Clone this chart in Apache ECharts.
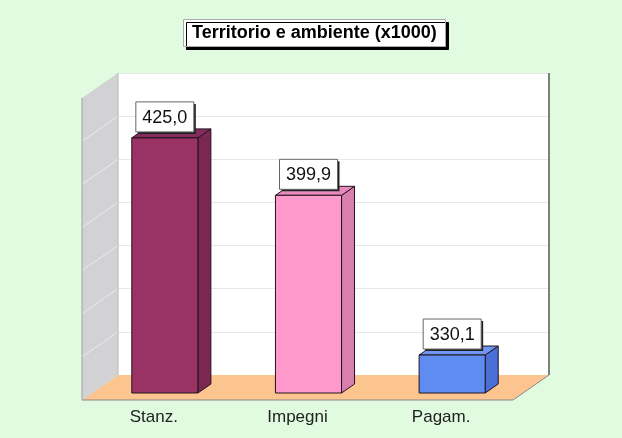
<!DOCTYPE html>
<html>
<head>
<meta charset="utf-8">
<script src="https://cdn.jsdelivr.net/npm/echarts@6/dist/echarts.min.js"></script>
<style>
  html, body { margin: 0; padding: 0; background: #e1fbe1; }
  #chart { width: 622px; height: 438px; }
</style>
</head>
<body>
<div id="chart"></div>
<script>
// dati
const categories = ['Stanz.', 'Impegni', 'Pagam.']
const values = [425.0, 399.9, 330.1]
const frontColors = ['#993366', '#ff99cc', '#5f8cf0']
const sideColors = ['#7a2752', '#d97fb0', '#4a6fd8']
const topColors = ['#842c5c', '#e98abd', '#6f96f2']
const yMin = 313.5
const yMax = 445.5
const wallLines = [0, 1, 2, 3, 4, 5, 6, 7]

const font = "'Liberation Sans', Arial, sans-serif"

// pareti e pavimento (prospettiva)
const back = { x: 118, y: 73, w: 431, h: 302 }
const dep = { x: -36, y: 25 }

function fmt(v) {
  return v.toFixed(1).replace('.', ',')
}

function renderBar(params, api) {
  const i = api.value(0)
  const v = api.value(1)
  const top = api.coord([i, v])
  const base = api.coord([i, yMin])
  const w = api.size([1, 0])[0] * 0.46
  const x0 = top[0] - w / 2
  const x1 = top[0] + w / 2
  const dx = 13, dy = -9
  const stroke = { stroke: '#24141c', lineWidth: 1 }
  const ly = top[1] - 21
  return {
    type: 'group',
    children: [
      { type: 'polygon', shape: { points: [[x1, top[1]], [x1 + dx, top[1] + dy], [x1 + dx, base[1] + dy], [x1, base[1]]] },
        style: Object.assign({ fill: sideColors[i] }, stroke) },
      { type: 'polygon', shape: { points: [[x0, top[1]], [x0 + dx, top[1] + dy], [x1 + dx, top[1] + dy], [x1, top[1]]] },
        style: Object.assign({ fill: topColors[i] }, stroke) },
      { type: 'rect', shape: { x: x0, y: top[1], width: w, height: base[1] - top[1] },
        style: Object.assign({ fill: frontColors[i] }, stroke) },
      { type: 'rect', shape: { x: top[0] - 29 + 2, y: ly - 15 + 2, width: 58, height: 30 }, style: { fill: '#222' } },
      { type: 'rect', shape: { x: top[0] - 29, y: ly - 15, width: 58, height: 30 }, style: { fill: '#fff', stroke: '#666', lineWidth: 1 } },
      { type: 'text', style: { text: fmt(v), x: top[0], y: ly + 1, align: 'center', verticalAlign: 'middle', font: '18px ' + font, fill: '#111' } }
    ]
  }
}

// grafica di sfondo
const graphics = []
const p = (x, y) => [x, y]
// pavimento
graphics.push({ type: 'polygon', z: 1, shape: { points: [p(back.x, back.y + back.h), p(back.x + back.w, back.y + back.h), p(back.x + back.w + dep.x, back.y + back.h + dep.y), p(back.x + dep.x, back.y + back.h + dep.y)] },
  style: { fill: '#fcc48f' } })
graphics.push({ type: 'polyline', z: 1, shape: { points: [p(back.x + dep.x, back.y + back.h + dep.y), p(back.x + back.w + dep.x, back.y + back.h + dep.y), p(back.x + back.w, back.y + back.h)] },
  style: { stroke: '#8a8a8a', lineWidth: 1, fill: null } })
// parete sinistra
graphics.push({ type: 'polygon', z: 1, shape: { points: [p(back.x + dep.x, back.y + dep.y), p(back.x, back.y), p(back.x, back.y + back.h), p(back.x + dep.x, back.y + back.h + dep.y)] },
  style: { fill: '#d2d2d4' } })
wallLines.slice(1, -1).forEach(k => {
  const y = back.y + back.h * k / 7
  graphics.push({ type: 'line', z: 1, shape: { x1: back.x + dep.x, y1: y + dep.y, x2: back.x, y2: y }, style: { stroke: '#ebebef', lineWidth: 1 } })
})
graphics.push({ type: 'line', z: 1, shape: { x1: back.x + dep.x, y1: back.y + dep.y, x2: back.x + dep.x, y2: back.y + back.h + dep.y }, style: { stroke: '#a0a0a0', lineWidth: 1 } })
graphics.push({ type: 'line', z: 1, shape: { x1: back.x, y1: back.y, x2: back.x, y2: back.y + back.h }, style: { stroke: '#b8b8b8', lineWidth: 1 } })
// bordo destro parete di fondo
graphics.push({ type: 'line', z: 1, shape: { x1: back.x + back.w, y1: back.y, x2: back.x + back.w, y2: back.y + back.h }, style: { stroke: '#555', lineWidth: 1.5 } })

const option = {
  backgroundColor: '#e1fbe1',
  animation: false,
  title: {
    text: 'Territorio e ambiente (x1000)',
    left: 183,
    top: 19,
    padding: [5, 9],
    backgroundColor: '#fff',
    borderColor: '#aaa',
    borderWidth: 1,
    shadowColor: '#000',
    shadowOffsetX: 3,
    shadowOffsetY: 3,
    shadowBlur: 0,
    textStyle: { fontFamily: font, fontSize: 18, fontWeight: 'bold', color: '#000' }
  },
  graphic: graphics,
  grid: [
    // parete di fondo
    { left: back.x, top: back.y, width: back.w, height: back.h, show: true, backgroundColor: '#fff', borderWidth: 0 },
    // piano frontale delle barre
    { left: 93, top: 91, width: 431, height: 302 },
    // bordo anteriore del pavimento (etichette)
    { left: 82, top: 98, width: 431, height: 302 }
  ],
  xAxis: [
    { gridIndex: 0, type: 'category', data: categories, show: false },
    { gridIndex: 1, type: 'category', data: categories, show: false },
    { gridIndex: 2, type: 'category', data: categories,
      axisLine: { show: false }, axisTick: { show: false },
      axisLabel: { margin: 9, fontFamily: font, fontSize: 17, color: '#222' } }
  ],
  yAxis: [
    { gridIndex: 0, type: 'value', min: 0, max: wallLines.length - 1, interval: 1,
      axisLabel: { show: false }, axisLine: { show: false }, axisTick: { show: false },
      splitLine: { lineStyle: { color: '#e8e8e8' } } },
    { gridIndex: 1, type: 'value', min: yMin, max: yMax, show: false, splitLine: { show: false } },
    { gridIndex: 2, type: 'value', show: false, splitLine: { show: false } }
  ],
  series: [
    {
      type: 'custom',
      xAxisIndex: 1,
      yAxisIndex: 1,
      z: 5,
      renderItem: renderBar,
      data: values.map((v, i) => [i, v])
    }
  ]
}

const chart = echarts.init(document.getElementById('chart'))
chart.setOption(option)
</script>
</body>
</html>
